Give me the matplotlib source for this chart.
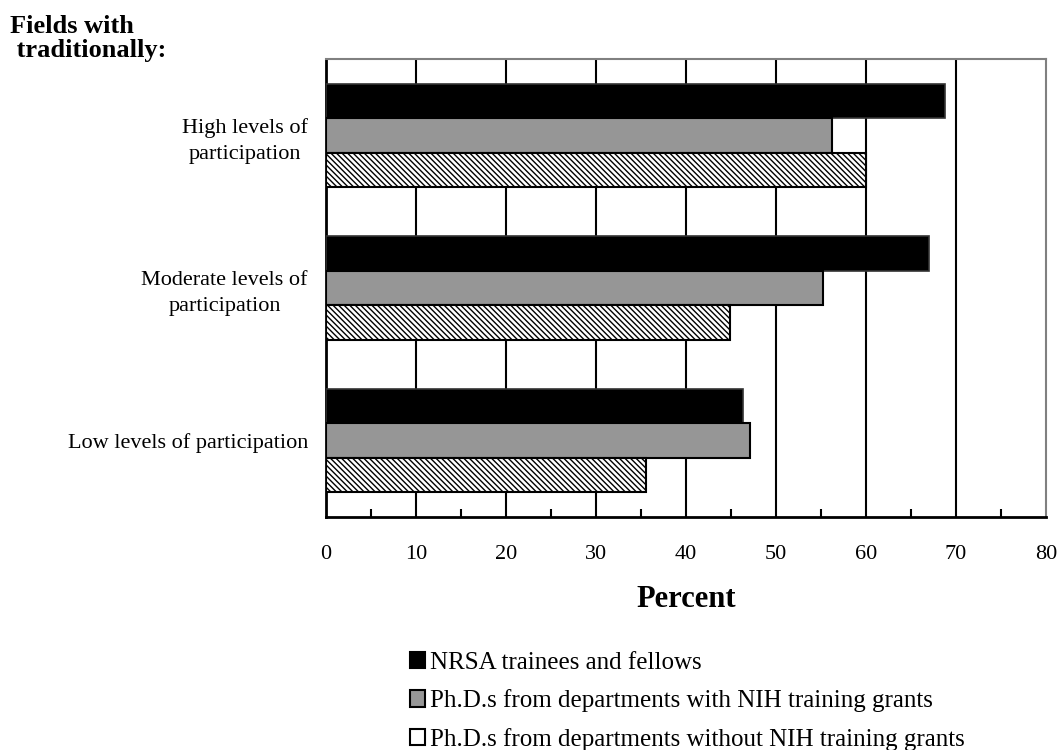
import matplotlib
matplotlib.use("Agg")
import matplotlib.pyplot as plt
from matplotlib.patches import Patch
import numpy as np

plt.rcParams['font.family'] = ['Liberation Serif', 'DejaVu Serif']
plt.rcParams['hatch.linewidth'] = 1.0

categories = ["High levels of\nparticipation", "Moderate levels of\nparticipation",
              "Low levels of participation"]
series_names = ["NRSA trainees and fellows",
                "Ph.D.s from departments with NIH training grants",
                "Ph.D.s from departments without NIH training grants"]
nrsa = [68.8, 67.0, 46.3]
with_grants = [56.2, 55.2, 47.1]
without_grants = [60.0, 44.9, 35.6]
xticks = [0, 10, 20, 30, 40, 50, 60, 70, 80]

fig = plt.figure(figsize=(10.59, 7.5), dpi=100)
ax = fig.add_axes([0.3078, 0.3107, 0.6799, 0.6107])

y = np.arange(len(categories))
h = 0.226
ax.barh(y - h, nrsa, height=h, color='black', edgecolor='#333333', linewidth=1.2, zorder=3)
ax.barh(y, with_grants, height=h, color='#969696', edgecolor='black', linewidth=1.5, zorder=3)
ax.barh(y + h, without_grants, height=h, color='white', edgecolor='black', linewidth=1.5,
        hatch='\\\\\\\\\\\\', zorder=3)

ax.set_xlim(0, 80)
ax.set_ylim(2.5, -0.5)
ax.set_xticks(xticks)
ax.set_xticklabels([str(t) for t in xticks], fontsize=16)
ax.set_xticks(np.arange(5, 80, 10), minor=True)
ax.tick_params(axis='x', which='both', direction='in', length=6, width=1.5, pad=20)
ax.tick_params(axis='x', which='major', length=0)
ax.set_yticks(y)
ax.set_yticklabels(categories, fontsize=16, multialignment='center', linespacing=1.5)
ax.tick_params(axis='y', length=0, pad=13)

for t in xticks[1:-1]:
    ax.axvline(t, color='black', linewidth=1.5, zorder=1)

for s in ['left', 'bottom']:
    ax.spines[s].set_linewidth(2)
    ax.spines[s].set_color('black')
for s in ['top', 'right']:
    ax.spines[s].set_linewidth(1.5)
    ax.spines[s].set_color('#808080')

ax.set_xlabel("Percent", fontsize=22, fontweight='bold', labelpad=15)

fig.text(0.009, 0.98, "Fields with\n traditionally:", fontsize=19, fontweight='bold',
         va='top', ha='left', linespacing=1.05)

handles = [Patch(facecolor='black', edgecolor='black', linewidth=1.5),
           Patch(facecolor='#969696', edgecolor='black', linewidth=1.5),
           Patch(facecolor='white', edgecolor='black', linewidth=1.5)]
fig.legend(handles, series_names, loc='upper left', bbox_to_anchor=(0.387, 0.131),
           frameon=False, fontsize=18, handlelength=0.62, handleheight=0.62,
           handletextpad=0.2, labelspacing=0.62, borderaxespad=0, borderpad=0)

fig.savefig("out.png", dpi=100)
